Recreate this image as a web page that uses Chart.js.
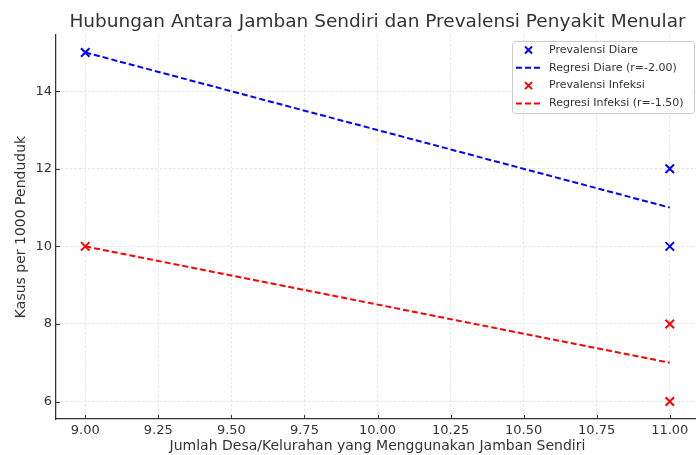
<!DOCTYPE html>
<html>
<head>
<meta charset="utf-8">
<script src="https://cdn.jsdelivr.net/npm/chart.js@4.4.1/dist/chart.umd.min.js"></script>
<style>
  html, body { margin: 0; padding: 0; overflow: hidden; background: #fff; }
  #wrap { position: relative; width: 700px; height: 455px; }
</style>
</head>
<body>
<div id="wrap"><canvas id="chart"></canvas></div>
<script>
// data
const xDesa = [9, 11, 11];
const diare = [15, 12, 10];
const infeksi = [10, 8, 6];
const regX = [9, 11];
const regDiare = [15, 11];
const regInfeksi = [10, 7];
const xTicks = [9, 9.25, 9.5, 9.75, 10, 10.25, 10.5, 10.75, 11];
const yTicks = [6, 8, 10, 12, 14];
const chartTitle = "Hubungan Antara Jamban Sendiri dan Prevalensi Penyakit Menular";
const xTitle = "Jumlah Desa/Kelurahan yang Menggunakan Jamban Sendiri";
const yTitle = "Kasus per 1000 Penduduk";

const FONT = "'DejaVu Sans', sans-serif";
const TEXT = "#333333";

const toPoints = (xs, ys) => xs.map((x, i) => ({ x: x, y: ys[i] }));

// title, inward ticks and the legend box
const extras = {
  id: "extras",
  afterDraw(chart) {
    const ctx = chart.ctx;
    const area = chart.chartArea;
    const xs = chart.scales.x;
    const ys = chart.scales.y;
    ctx.save();

    ctx.fillStyle = TEXT;
    ctx.font = "18.5px " + FONT;
    ctx.textAlign = "center";
    ctx.textBaseline = "middle";
    ctx.fillText(chartTitle, (area.left + area.right) / 2, 22);

    ctx.strokeStyle = TEXT;
    ctx.lineWidth = 1;
    xTicks.forEach((v) => {
      const px = Math.round(xs.getPixelForValue(v)) + 0.5;
      ctx.beginPath();
      ctx.moveTo(px, area.bottom);
      ctx.lineTo(px, area.bottom - 4);
      ctx.stroke();
    });
    yTicks.forEach((v) => {
      const py = Math.round(ys.getPixelForValue(v)) + 0.5;
      ctx.beginPath();
      ctx.moveTo(area.left, py);
      ctx.lineTo(area.left + 4, py);
      ctx.stroke();
    });

    // legend
    const bx = 512, by = 41, bw = 182, bh = 72;
    ctx.fillStyle = "rgba(255,255,255,0.85)";
    ctx.strokeStyle = "#cccccc";
    ctx.beginPath();
    ctx.roundRect(bx + 0.5, by + 0.5, bw, bh, 3);
    ctx.fill();
    ctx.stroke();

    ctx.font = "11px " + FONT;
    ctx.textAlign = "left";
    chart.data.datasets.forEach((ds, i) => {
      const cy = 50 + i * 17.8;
      ctx.strokeStyle = ds.borderColor;
      if (ds.type === "scatter") {
        ctx.lineWidth = 2;
        ctx.beginPath();
        ctx.moveTo(525, cy - 3.5);
        ctx.lineTo(532, cy + 3.5);
        ctx.moveTo(532, cy - 3.5);
        ctx.lineTo(525, cy + 3.5);
        ctx.stroke();
      } else {
        ctx.lineWidth = 2;
        ctx.setLineDash([6, 3]);
        ctx.beginPath();
        ctx.moveTo(516, cy);
        ctx.lineTo(541, cy);
        ctx.stroke();
        ctx.setLineDash([]);
      }
      ctx.fillStyle = TEXT;
      ctx.fillText(ds.label, 549, cy);
    });
    ctx.restore();
  },
};

new Chart(document.getElementById("chart"), {
  data: {
    datasets: [
      {
        type: "scatter",
        label: "Prevalensi Diare",
        data: toPoints(xDesa, diare),
        borderColor: "#0000ff",
        backgroundColor: "#0000ff",
        pointStyle: "crossRot",
        pointRadius: 6,
        borderWidth: 2,
      },
      {
        type: "line",
        label: "Regresi Diare (r=-2.00)",
        data: toPoints(regX, regDiare),
        borderColor: "#0000ff",
        borderWidth: 2,
        borderDash: [6, 3],
        pointRadius: 0,
        fill: false,
      },
      {
        type: "scatter",
        label: "Prevalensi Infeksi",
        data: toPoints(xDesa, infeksi),
        borderColor: "#ff0000",
        backgroundColor: "#ff0000",
        pointStyle: "crossRot",
        pointRadius: 6,
        borderWidth: 2,
      },
      {
        type: "line",
        label: "Regresi Infeksi (r=-1.50)",
        data: toPoints(regX, regInfeksi),
        borderColor: "#ff0000",
        borderWidth: 2,
        borderDash: [6, 3],
        pointRadius: 0,
        fill: false,
      },
    ],
  },
  options: {
    responsive: true,
    maintainAspectRatio: false,
    animation: false,
    events: [],
    layout: { autoPadding: false, padding: { top: 35, right: 1, left: 0, bottom: 0 } },
    plugins: {
      legend: { display: false },
      title: { display: false },
      tooltip: { enabled: false },
    },
    scales: {
      x: {
        type: "linear",
        min: 8.9,
        max: 11.1,
        afterBuildTicks: (scale) => {
          scale.ticks = xTicks.map((v) => ({ value: v }));
        },
        afterFit: (scale) => {
          scale.height = 36;
          scale.paddingLeft = 0;
          scale.paddingRight = 0;
        },
        grid: { color: "#dddddd", lineWidth: 0.8, drawTicks: false },
        border: { display: true, color: TEXT, width: 1.25, dash: [2.5, 2] },
        ticks: {
          padding: 4,
          color: TEXT,
          font: { family: FONT, size: 13 },
          maxRotation: 0,
          callback: (v) => v.toFixed(2),
        },
        title: {
          display: true,
          text: xTitle,
          color: TEXT,
          font: { family: FONT, size: 14 },
          padding: { top: 0, bottom: 0 },
        },
      },
      y: {
        type: "linear",
        min: 5.55,
        max: 15.45,
        afterBuildTicks: (scale) => {
          scale.ticks = yTicks.map((v) => ({ value: v }));
        },
        afterFit: (scale) => {
          scale.width = 56;
          scale.paddingTop = 0;
          scale.paddingBottom = 0;
        },
        grid: { color: "#dddddd", lineWidth: 0.8, drawTicks: false },
        border: { display: true, color: TEXT, width: 1.25, dash: [2.5, 2] },
        ticks: {
          padding: 4,
          color: TEXT,
          font: { family: FONT, size: 13 },
          callback: (v) => String(v),
        },
        title: {
          display: true,
          text: yTitle,
          color: TEXT,
          font: { family: FONT, size: 14 },
          padding: { top: 13, bottom: 0 },
        },
      },
    },
  },
  plugins: [extras],
});
</script>
</body>
</html>
